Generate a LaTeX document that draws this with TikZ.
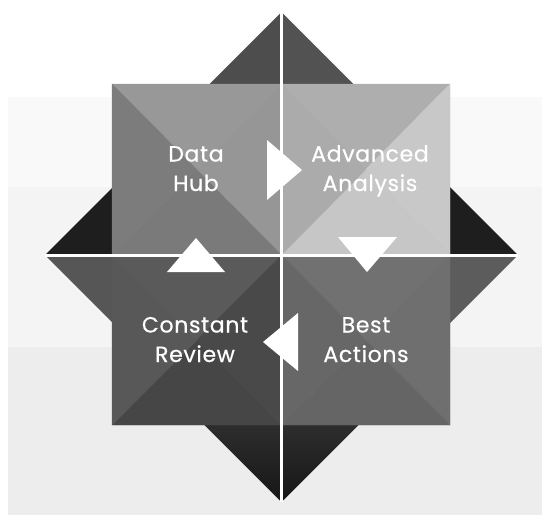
\documentclass[tikz,border=0pt]{standalone}
\usepackage{fontspec}
\setmainfont{Poppins}
\newfontfamily\qfont{Poppins}[LetterSpace=3,FakeBold=0.6]
\usetikzlibrary{calc}
\definecolor{bgA}{HTML}{F9F9F9}
\definecolor{bgB}{HTML}{F4F4F4}
\definecolor{bgC}{HTML}{EDEDED}
\definecolor{topL}{HTML}{4D4D4D}
\definecolor{topR}{HTML}{525252}
\definecolor{sideDark}{HTML}{1E1E1E}
\definecolor{leftLow}{HTML}{565656}
\definecolor{rightLow}{HTML}{5C5C5C}
\definecolor{botTop}{HTML}{2E2E2E}
\definecolor{botBot}{HTML}{161616}
% Data Hub
\definecolor{dhT}{HTML}{989898}\definecolor{dhR}{HTML}{969696}
\definecolor{dhB}{HTML}{7A7A7A}\definecolor{dhL}{HTML}{7C7C7C}
% Advanced Analysis
\definecolor{aaT}{HTML}{AEAEAE}\definecolor{aaR}{HTML}{C8C8C8}
\definecolor{aaB}{HTML}{C6C6C6}\definecolor{aaL}{HTML}{ABABAB}
% Constant Review
\definecolor{crT}{HTML}{5A5A5A}\definecolor{crR}{HTML}{494949}
\definecolor{crB}{HTML}{464646}\definecolor{crL}{HTML}{585858}
% Best Actions
\definecolor{baT}{HTML}{717171}\definecolor{baR}{HTML}{6F6F6F}
\definecolor{baB}{HTML}{656565}\definecolor{baL}{HTML}{676767}
\tikzset{
  face/.style={fill=#1, draw=#1, line width=0.3pt, line join=round},
  divider/.style={draw=white, line width=3pt},
  flow/.style={fill=white},
  qtext/.style={text=white, align=center, inner sep=0pt,
    font=\qfont\fontsize{22}{29.5}\selectfont}
}
\newcommand\pyrquad[8]{%
  \coordinate (pa) at (#1,#2); \coordinate (pb) at (#3,#2);
  \coordinate (pc) at (#3,#4); \coordinate (pd) at (#1,#4);
  \coordinate (pm) at ($(pa)!0.5!(pc)$);
  \filldraw[face=#5] (pa) -- (pb) -- (pm) -- cycle;
  \filldraw[face=#6] (pb) -- (pc) -- (pm) -- cycle;
  \filldraw[face=#7] (pc) -- (pd) -- (pm) -- cycle;
  \filldraw[face=#8] (pd) -- (pa) -- (pm) -- cycle;}
\begin{document}
\begin{tikzpicture}[x=1pt,y=-1pt]
\useasboundingbox (0,0) rectangle (542,515);
% background bands
\fill[white] (0,0) rectangle (542,515);
\fill[bgA] (8,97) rectangle (542,187);
\fill[bgB] (8,187) rectangle (542,347);
\fill[bgC] (8,347) rectangle (542,515);
% outer triangles
\fill[topL] (281.5,12) -- (207.5,86) -- (281.5,86) -- cycle;
\fill[topR] (281.5,12) -- (355.5,86) -- (281.5,86) -- cycle;
\fill[sideDark] (45,255) -- (114,186) -- (114,255) -- cycle;
\fill[leftLow] (45,255) -- (114,255) -- (114,324) -- cycle;
\fill[sideDark] (518,255) -- (448,185) -- (448,255) -- cycle;
\fill[rightLow] (518,255) -- (448,255) -- (448,325) -- cycle;
\shade[top color=botTop, bottom color=botBot] (281.5,502) -- (202.5,423) -- (360.5,423) -- cycle;
% quadrant pyramids
\pyrquad{112}{84}{281.5}{255}{dhT}{dhR}{dhB}{dhL}
\pyrquad{281.5}{84}{450}{255}{aaT}{aaR}{aaB}{aaL}
\pyrquad{112}{255}{281.5}{425}{crT}{crR}{crB}{crL}
\pyrquad{281.5}{255}{450}{425}{baT}{baR}{baB}{baL}
% dividing white lines
\draw[divider] (281.5,12) -- (281.5,502);
\draw[divider] (45,255) -- (518,255);
% flow arrows
\fill[flow] (267,140) -- (302,170) -- (267,200) -- cycle;
\fill[flow] (338,237) -- (397,237) -- (367,272) -- cycle;
\fill[flow] (298,313) -- (298,371) -- (263,342) -- cycle;
\fill[flow] (167,272) -- (225,272) -- (196,238) -- cycle;
% labels
\node[qtext, anchor=base] (hub) at (196,191) {Data\\Hub};
\node[qtext, anchor=base] (analysis) at (370,191) {Advanced\\Analysis};
\node[qtext, anchor=base] (review) at (195,362) {Constant\\Review};
\node[qtext, anchor=base] (actions) at (366,362) {Best\\Actions};
\end{tikzpicture}
\end{document}
